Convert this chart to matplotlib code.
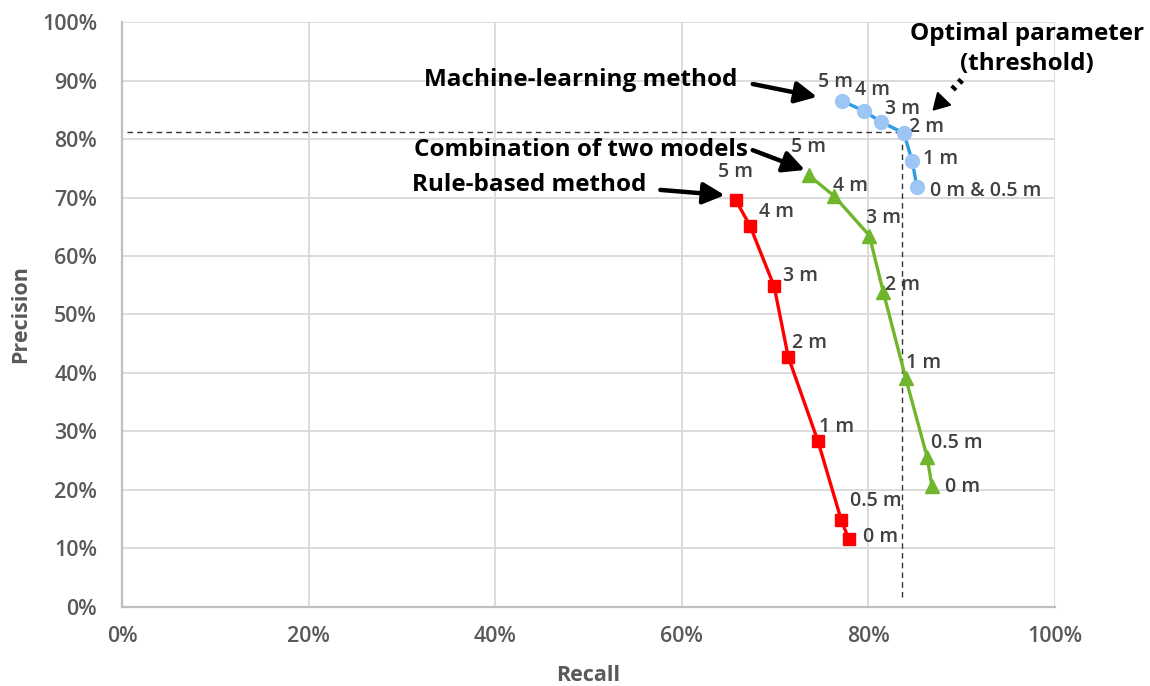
import matplotlib.pyplot as plt
import numpy as np
from matplotlib.ticker import PercentFormatter

plt.rcParams['font.family'] = ['Open Sans', 'DejaVu Sans']

# distance thresholds for each point
dist_labels = ['5 m', '4 m', '3 m', '2 m', '1 m', '0.5 m', '0 m']
ml_labels = ['5 m', '4 m', '3 m', '2 m', '1 m', '0 m & 0.5 m']

# recall / precision in %
rule_recall = [65.8, 67.3, 69.9, 71.4, 74.6, 77.1, 77.9]
rule_precision = [69.5, 65.2, 54.8, 42.8, 28.3, 14.8, 11.6]

comb_recall = [73.6, 76.3, 80.1, 81.6, 84.0, 86.3, 86.8]
comb_precision = [73.8, 70.3, 63.5, 53.8, 39.1, 25.6, 20.7]

ml_recall = [77.2, 79.5, 81.4, 83.8, 84.7, 85.2]
ml_precision = [86.5, 84.8, 82.9, 81.0, 76.2, 71.8]

# optimal threshold (2 m of ML method)
opt_recall = 83.6
opt_precision = 81.2

# label offsets in pixels (dx, dy)
rule_off = [(0, 28), (27, 14), (26, 10), (21, 14), (19, 14), (34, 19), (32, 2)]
comb_off = [(0, 28), (17, 10), (14, 18), (19, 7), (18, 15), (30, 14), (31, -1)]
ml_off = [(-7, 19), (9, 21), (21, 13), (23, 6), (28, 2), (13, -4)]

fig = plt.figure(figsize=(11.5, 6.86), dpi=100)
ax = fig.add_axes([0.1061, 0.1152, 0.8113, 0.8527])
ax.set_xlim(0, 100)
ax.set_ylim(0, 100)
ax.set_xticks(np.arange(0, 101, 20))
ax.set_yticks(np.arange(0, 101, 10))
ax.xaxis.set_major_formatter(PercentFormatter(decimals=0))
ax.yaxis.set_major_formatter(PercentFormatter(decimals=0))
ax.grid(color='#d9d9d9', lw=1.3)
ax.set_axisbelow(True)
for s in ['top', 'right']:
    ax.spines[s].set_visible(False)
for s in ['left', 'bottom']:
    ax.spines[s].set_color('#bfbfbf')
    ax.spines[s].set_linewidth(1.6)
ax.tick_params(length=0, labelsize=15.5, colors='#595959')
ax.tick_params(axis='y', pad=18)
ax.tick_params(axis='x', pad=14)
for lab in ax.get_xticklabels() + ax.get_yticklabels():
    lab.set_fontweight('semibold')
ax.set_xlabel('Recall', fontsize=15.5, fontweight='bold', color='#595959', labelpad=13)
ax.set_ylabel('Precision', fontsize=15.5, fontweight='bold', color='#595959', labelpad=8)

# dashed guide lines for optimal parameter
ax.plot([0.5, opt_recall], [opt_precision, opt_precision], color='#333333', lw=1, ls=(0, (4, 3)))
ax.plot([opt_recall, opt_recall], [1.7, opt_precision], color='#333333', lw=1, ls=(0, (4, 3)))

ax.plot(rule_recall, rule_precision, color='#ff0000', lw=2.4, marker='s', ms=8,
        mfc='#ff0000', mec='#ff0000', zorder=3)
ax.plot(comb_recall, comb_precision, color='#70b62c', lw=2.4, marker='^', ms=9.5,
        mfc='#70b62c', mec='#70b62c', zorder=3)
ax.plot(ml_recall, ml_precision, color='#2f9be0', lw=2.4, marker='o', ms=10,
        mfc='#9dc6f5', mec='#9dc6f5', zorder=4)

lab_kw = dict(textcoords='offset pixels', fontsize=14, fontweight='semibold',
              color='#404040', va='center')
for x, y, t, o in zip(rule_recall, rule_precision, dist_labels, rule_off):
    ax.annotate(t, (x, y), xytext=o, ha='center', **lab_kw)
for x, y, t, o in zip(comb_recall, comb_precision, dist_labels, comb_off):
    ax.annotate(t, (x, y), xytext=o, ha='center', **lab_kw)
for i, (x, y, t, o) in enumerate(zip(ml_recall, ml_precision, ml_labels, ml_off)):
    ax.annotate(t, (x, y), xytext=o, ha='left' if i == 5 else 'center', **lab_kw)

arrow_kw = dict(arrowstyle='-|>,head_length=0.5,head_width=0.25', color='black', lw=3.2,
                mutation_scale=26, shrinkA=0, shrinkB=0)
txt_kw = dict(fontsize=17.5, fontweight='bold', color='black', ha='center', va='center')
ax.annotate('', xy=(74.5, 87.2), xytext=(67.6, 89.4), arrowprops=arrow_kw)
ax.text(49.2, 90.1, 'Machine-learning method', **txt_kw)
ax.annotate('', xy=(73.2, 74.7), xytext=(67.6, 78.1), arrowprops=arrow_kw)
ax.text(49.2, 78.1, 'Combination of two models', **txt_kw)
ax.annotate('', xy=(64.6, 70.4), xytext=(57.7, 71.3), arrowprops=arrow_kw)
ax.text(43.6, 72.1, 'Rule-based method', **txt_kw)

# dotted shaft + solid triangular head for the threshold arrow
ax.plot([90.0, 88.6], [90.1, 87.8], color='black', lw=4.5, ls=(0, (0.6, 0.9)),
        dash_capstyle='butt', zorder=5)
ax.plot([87.7], [86.3], marker=(3, 0, 136), ms=15, color='black', zorder=6)
ax.text(97.0, 95.4, 'Optimal parameter\n(threshold)', clip_on=False,
        linespacing=1.3, **txt_kw)

fig.savefig('out.png', dpi=100)
